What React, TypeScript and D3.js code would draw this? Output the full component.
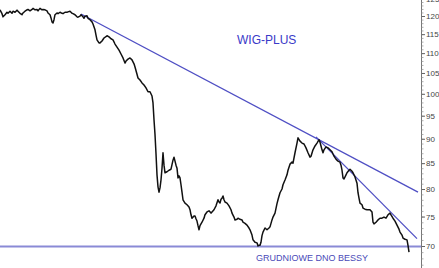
import React from "react";
import * as d3 from "d3";

// Session index (x) and WIG-PLUS close (y)
const sessions: number[] = [
  0, 2, 3, 5, 7, 8, 10, 12, 13, 15, 17, 18, 20, 22, 23, 25, 27, 28, 30, 32, 33, 35, 37, 38, 40, 42, 43, 45, 47, 48,
  50, 51, 52, 53, 54, 55, 57, 58, 60, 62, 63, 65, 67, 68, 70, 72, 73, 75, 77, 78, 80, 81, 83, 84, 85, 87, 88, 90, 92, 93,
  95, 96, 97, 99, 100, 102, 104, 107, 109, 111, 113, 115, 117, 119, 121, 123, 125, 126, 128, 130, 132, 134, 135, 137, 138, 140, 142, 144, 146, 148,
  150, 152, 153, 154, 155, 156, 157, 158, 159, 160, 161, 162, 163, 164, 165, 167, 169, 171, 173, 174, 176, 177, 178, 179, 180, 181, 182, 183, 185, 187,
  189, 190, 191, 192, 194, 195, 196, 197, 198, 199, 200, 202, 204, 205, 207, 209, 211, 212, 214, 216, 218, 219, 220, 221, 222, 223, 224, 225, 227, 229,
  231, 232, 234, 235, 237, 238, 240, 242, 243, 245, 247, 249, 250, 252, 253, 255, 257, 258, 259, 260, 261, 262, 263, 265, 267, 269, 270, 272, 273, 275,
  277, 278, 280, 282, 283, 285, 287, 288, 290, 292, 293, 295, 297, 298, 300, 302, 304, 306, 308, 310, 311, 313, 315, 317, 319, 320, 321, 322, 323, 324,
  326, 328, 330, 332, 334, 336, 338, 340, 341, 342, 343, 344, 346, 347, 349, 350, 352, 353, 355, 357, 358, 359, 360, 362, 363, 365, 367, 369, 370, 372,
  373, 374, 376, 378, 380, 382, 384, 386, 388, 390, 391, 393, 395, 397, 399, 400, 402, 403, 405, 407, 408, 409,
];
const closes: number[] = [
  121.9, 120.8, 119.9, 120.5, 121.2, 120.9, 121.5, 120.9, 121.5, 121.2, 121.8, 121.5, 120.9, 120.5, 121.0, 121.5, 121.9, 122.0, 121.6, 122.0, 122.3, 121.9, 122.0, 121.6, 122.3, 121.9, 122.0, 121.9, 121.6, 121.0,
  120.5, 119.6, 118.5, 118.2, 119.1, 120.5, 121.0, 120.8, 121.2, 120.9, 120.8, 121.2, 121.2, 121.3, 121.5, 120.9, 120.8, 120.5, 119.9, 119.8, 120.1, 120.5, 119.9, 119.5, 120.1, 120.2, 119.5, 119.1, 118.5, 117.9,
  116.3, 114.9, 113.6, 112.8, 112.8, 113.3, 114.1, 114.7, 114.4, 113.9, 113.6, 112.5, 111.7, 110.9, 109.9, 108.9, 107.6, 108.1, 108.6, 108.9, 108.4, 107.4, 106.6, 104.8, 103.9, 103.4, 102.7, 102.2, 101.5, 100.6,
  100.6, 99.6, 98.0, 94.2, 91.0, 87.0, 82.8, 80.5, 79.5, 80.3, 81.8, 84.1, 87.2, 84.7, 83.2, 83.4, 83.7, 83.9, 85.7, 86.3, 84.7, 84.1, 82.2, 82.6, 82.2, 80.9, 79.5, 78.1, 77.5, 77.2,
  76.8, 76.3, 75.4, 74.8, 75.2, 75.2, 74.7, 74.3, 73.5, 72.8, 73.5, 74.1, 74.8, 75.4, 75.9, 76.1, 75.7, 75.9, 76.3, 77.0, 78.1, 77.7, 77.5, 78.2, 78.4, 78.8, 78.1, 77.7, 77.5, 77.0,
  76.3, 75.7, 75.0, 74.5, 74.6, 74.8, 74.6, 74.5, 74.1, 73.9, 73.6, 73.1, 72.8, 71.9, 71.1, 70.7, 70.6, 70.1, 70.2, 70.2, 70.7, 71.8, 72.4, 73.1, 72.8, 73.1, 73.3, 74.5, 75.0, 75.7,
  77.4, 78.1, 79.4, 80.1, 80.9, 81.8, 82.8, 83.7, 84.9, 85.3, 85.1, 87.2, 89.2, 90.3, 89.6, 89.2, 89.0, 88.2, 87.2, 86.3, 86.5, 87.8, 88.6, 89.2, 89.9, 89.4, 88.6, 87.8, 87.2, 87.8,
  88.4, 88.2, 87.8, 87.4, 86.5, 85.9, 85.5, 85.3, 84.7, 83.7, 82.2, 82.0, 82.8, 83.2, 83.7, 83.9, 83.5, 83.2, 82.4, 81.2, 79.4, 78.4, 77.5, 77.2, 76.6, 76.4, 76.3, 76.3, 76.3, 75.9,
  74.1, 73.8, 74.1, 74.5, 74.8, 74.8, 75.0, 74.8, 75.4, 75.7, 75.4, 74.8, 74.3, 73.6, 72.9, 72.4, 71.9, 71.4, 71.2, 71.1, 70.2, 69.1,
];

// Trend lines: [session, value] endpoints
const longTrendX: number[] = [81, 418];
const longTrendY: number[] = [120.7, 79.5];
const shortTrendX: number[] = [316, 417];
const shortTrendY: number[] = [90.5, 71.3];
const bottomLevel = 70;
const bottomX: number[] = [0, 421];

const majorTicks: number[] = [70, 75, 80, 85, 90, 95, 100, 105, 110, 115, 120, 125];
const minorTicks: number[] = d3.range(66, 127);

const title = "WIG-PLUS";
const bottomLabel = "GRUDNIOWE DNO BESSY";

const W = 439;
const H = 268;

export default function App() {
  const x = d3.scaleLinear().domain([0, 421]).range([0, 421]);
  const y = d3.scaleLog().domain([70, 120]).range([246.5, 16.5]);
  const axisX = 421.5;

  const pts: [number, number][] = sessions.map((s, i) => [s, closes[i]]);
  const line = d3
    .line<[number, number]>()
    .x((d) => x(d[0]))
    .y((d) => y(d[1]));

  const blue = "#4f4fc4";
  const font = "'Liberation Sans', Arial, sans-serif";

  return (
    <svg
      width={W}
      height={H}
      style={{ position: "absolute", left: 0, top: 0, background: "#fff" }}
      fontFamily={font}
    >
      <rect x={0} y={0} width={W} height={H} fill="#fff" />
      {/* bottom support level */}
      <line
        x1={x(bottomX[0])}
        x2={x(bottomX[1])}
        y1={y(bottomLevel)}
        y2={y(bottomLevel)}
        stroke="#8a8ad6"
        strokeWidth={2}
      />
      {/* long trend */}
      <line
        x1={x(longTrendX[0])}
        y1={y(longTrendY[0])}
        x2={x(longTrendX[1])}
        y2={y(longTrendY[1])}
        stroke={blue}
        strokeWidth={1.3}
      />
      {/* short trend */}
      <line
        x1={x(shortTrendX[0])}
        y1={y(shortTrendY[0])}
        x2={x(shortTrendX[1])}
        y2={y(shortTrendY[1])}
        stroke={blue}
        strokeWidth={1.3}
      />
      {/* price */}
      <path d={line(pts) || ""} fill="none" stroke="#111" strokeWidth={1.5} strokeLinejoin="round" />

      {/* right axis */}
      <line x1={axisX} x2={axisX} y1={0} y2={H} stroke="#777" strokeWidth={1} />
      {minorTicks.map((v) => (
        <line key={"m" + v} x1={axisX} x2={axisX + 2} y1={y(v)} y2={y(v)} stroke="#999" strokeWidth={0.8} />
      ))}
      {majorTicks.map((v) => (
        <g key={"M" + v}>
          <line x1={axisX} x2={axisX + 3.5} y1={y(v)} y2={y(v)} stroke="#666" strokeWidth={1} />
          <text x={426} y={y(v)} dy="0.35em" fontSize={8} fill="#444">
            {v}
          </text>
        </g>
      ))}

      <text x={237} y={44} fontSize={12} fill="#3a3ac8">
        {title}
      </text>
      <text x={256} y={261} fontSize={9} fill="#4a4ab8">
        {bottomLabel}
      </text>
    </svg>
  );
}
